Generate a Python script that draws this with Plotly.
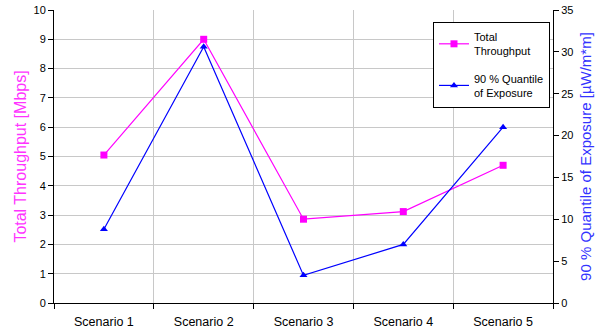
import plotly.graph_objects as go

categories = ["Scenario 1", "Scenario 2", "Scenario 3", "Scenario 4", "Scenario 5"]
throughput = [5.05, 9.0, 2.86, 3.12, 4.7]
exposure = [8.8, 30.6, 3.3, 7.0, 21.0]

fig = go.Figure()
fig.add_trace(go.Scatter(
    x=categories, y=throughput, name="Total<br>Throughput",
    mode="lines+markers", legendgroup="a",
    line=dict(color="#FF00FF", width=1.2),
    marker=dict(symbol="square", size=7, color="#FF00FF"),
))
fig.add_trace(go.Scatter(
    x=categories, y=exposure, name="90 % Quantile<br>of Exposure",
    mode="lines+markers", yaxis="y2", legendgroup="b",
    line=dict(color="#0000FF", width=1.2),
    marker=dict(symbol="triangle-up", size=7, color="#0000FF"),
))

fig.update_layout(
    width=600, height=335,
    margin=dict(l=54, r=47, t=10, b=32, autoexpand=False),
    paper_bgcolor="white", plot_bgcolor="white",
    font=dict(family="Liberation Sans, Arial", size=11, color="black"),
    xaxis=dict(
        type="category", tickson="boundaries", range=[-0.5, 4.5],
        showgrid=True, gridcolor="#C8C8C8", gridwidth=1,
        showline=True, linecolor="black", linewidth=1,
        ticks="outside", ticklen=5, tickcolor="black",
        tickfont=dict(size=12.5), ticklabelstandoff=7,
    ),
    yaxis=dict(
        range=[0, 10], dtick=1,
        showgrid=True, gridcolor="#C8C8C8", gridwidth=1,
        showline=True, linecolor="black", linewidth=1,
        ticks="outside", ticklen=5, tickcolor="black",
        zeroline=False, tickfont=dict(size=11),
        title=dict(text="Total Throughput [Mbps]", font=dict(color="#FF33FF", size=16), standoff=2),
    ),
    yaxis2=dict(
        range=[0, 35], dtick=5, overlaying="y", side="right",
        showgrid=False,
        showline=True, linecolor="black", linewidth=1,
        ticks="outside", ticklen=5, tickcolor="black",
        zeroline=False, tickfont=dict(size=11),
        title=dict(text="90 % Quantile of Exposure [µW/m*m]", font=dict(color="#3333FF", size=15), standoff=8),
    ),
    legend=dict(
        x=0.7595, y=0.959, xanchor="left", yanchor="top",
        bgcolor="white", bordercolor="black", borderwidth=1,
        font=dict(size=11), tracegroupgap=10, itemwidth=30,
    ),
    showlegend=True,
)

fig.write_html("out.html", config={"displayModeBar": False},
               post_script="document.body.style.margin='0';")
